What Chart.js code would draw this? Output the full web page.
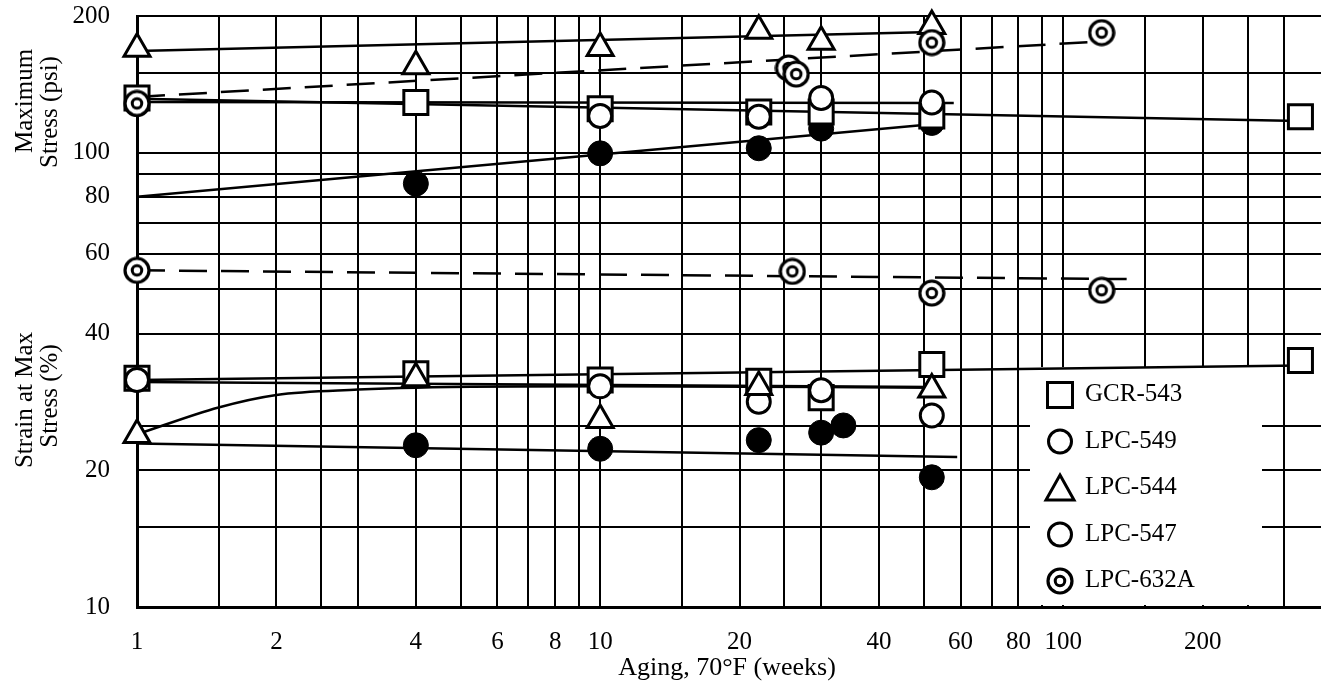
<!DOCTYPE html>
<html>
<head>
<meta charset="utf-8">
<title>Maximum stress and strain vs aging</title>
<script src="https://cdn.jsdelivr.net/npm/chart.js@4.4.0/dist/chart.umd.min.js"></script>
<style>
  html, body { margin: 0; padding: 0; background: #fff; }
  #wrap { width: 1321px; height: 682px; }
</style>
</head>
<body>
<div id="wrap"><canvas id="agingChart" width="1321" height="682"></canvas></div>
<script>
// Log-log paper: grid lines and the labelled ticks
const xGridWeeks = [1, 1.5, 2, 2.5, 3, 4, 5, 6, 7, 8, 9, 10, 15, 20, 25, 30, 40, 50, 60, 70, 80, 90, 100, 150, 200, 250, 300];
const xTickLabels = [1, 2, 4, 6, 8, 10, 20, 40, 60, 80, 100, 200];
const yGridValues = [10, 15, 20, 25, 40, 50, 60, 70, 80, 90, 100, 150, 200];
const yTickLabels = [10, 20, 40, 60, 80, 100, 200];

// Maximum stress (psi)
const gcrStressWeeks = [1, 4, 10, 22, 30, 52, 325];
const gcrStress = [132, 129, 125, 123, 123, 120.5, 120];
const lpc549StressWeeks = [1, 10, 22, 30, 52];
const lpc549Stress = [128, 120.5, 120, 132, 129];
const lpc544StressWeeks = [1, 4, 10, 22, 30, 52];
const lpc544Stress = [169.5, 155, 170, 185.5, 175.5, 190];
const lpc547StressWeeks = [4, 10, 22, 30, 52];
const lpc547Stress = [85.5, 99.7, 102.3, 113, 116.3];
const lpc632StressWeeks = [1, 25.5, 26.5, 52, 121];
const lpc632Stress = [128.4, 153.7, 149, 174.8, 183.8];

// Strain at max stress (%)
const gcrStrainWeeks = [1, 4, 10, 22, 30, 52, 325];
const gcrStrain = [31.9, 32.6, 31.6, 31.4, 28.9, 34.2, 34.9];
const lpc549StrainWeeks = [1, 10, 22, 30, 52];
const lpc549Strain = [31.6, 30.6, 28.3, 30.0, 26.4];
const lpc544StrainWeeks = [1, 4, 10, 22, 52];
const lpc544Strain = [23.9, 31.9, 25.8, 30.5, 30.1];
const lpc547StrainWeeks = [4, 10, 22, 30, 33.5, 52];
const lpc547Strain = [22.7, 22.3, 23.3, 24.2, 25.1, 19.3];
const lpc632StrainWeeks = [1, 26, 52, 121];
const lpc632Strain = [55.1, 54.8, 49.1, 49.8];

// Hand-drawn fit lines (end points, or points along the curve)
const gcrStressFitWeeks = [1, 325];
const gcrStressFit = [131.4, 117.5];
const lpc549StressFitWeeks = [1, 58];
const lpc549StressFit = [129.4, 128.7];
const lpc544StressFitWeeks = [1, 52];
const lpc544StressFit = [167.4, 184.5];
const lpc547StressFitWeeks = [1, 52];
const lpc547StressFit = [80, 115.5];
const lpc632StressFitWeeks = [1, 113];
const lpc632StressFit = [132.7, 175.1];

const gcrStrainFitWeeks = [1, 325];
const gcrStrainFit = [31.6, 34.0];
const lpc549StrainFitWeeks = [1, 52];
const lpc549StrainFit = [31.3, 30.5];
const lpc544StrainFitWeeks = [1, 1.5, 2, 3, 4, 10, 52];
const lpc544StrainFit = [24.0, 27.5, 29.3, 30.1, 30.4, 30.6, 30.4];
const lpc547StrainFitWeeks = [1, 59];
const lpc547StrainFit = [22.9, 21.4];
const lpc632StrainFitWeeks = [1, 137];
const lpc632StrainFit = [55.1, 52.7];

const serif = "'Liberation Serif', 'Times New Roman', serif";

// Double-ring marker used for LPC-632A
function makeRingMarker(size) {
  const c = document.createElement('canvas');
  c.width = c.height = size;
  const g = c.getContext('2d');
  const m = size / 2;
  g.strokeStyle = '#000';
  g.fillStyle = '#fff';
  g.lineWidth = 3.2;
  g.beginPath();
  g.arc(m, m, m - 2, 0, Math.PI * 2);
  g.fill();
  g.stroke();
  g.lineWidth = 3;
  g.beginPath();
  g.arc(m, m, m * 0.34, 0, Math.PI * 2);
  g.stroke();
  return c;
}
const ringMarker = makeRingMarker(28);

function xy(weeks, vals) {
  return weeks.map((w, i) => ({ x: w, y: vals[i] }));
}

function fitLine(weeks, vals, dashed, curved) {
  return {
    data: xy(weeks, vals),
    showLine: true,
    borderColor: '#000',
    borderWidth: 2.5,
    borderDash: dashed ? [28, 14] : [],
    pointRadius: 0,
    tension: curved ? 0.4 : 0,
    cubicInterpolationMode: curved ? 'monotone' : 'default',
    order: 10
  };
}

const squareStyle = { pointStyle: 'rect', pointRadius: 17, pointBackgroundColor: '#fff', pointBorderColor: '#000', pointBorderWidth: 3, order: 5 };
const openCircleStyle = { pointStyle: 'circle', pointRadius: 11.5, pointBackgroundColor: '#fff', pointBorderColor: '#000', pointBorderWidth: 3, order: 4 };
const triangleStyle = { pointStyle: 'triangle', pointRadius: 15, pointBackgroundColor: '#fff', pointBorderColor: '#000', pointBorderWidth: 3, order: 3 };
const filledCircleStyle = { pointStyle: 'circle', pointRadius: 12.5, pointBackgroundColor: '#000', pointBorderColor: '#000', pointBorderWidth: 1, order: 6 };
const ringStyle = { pointStyle: ringMarker, pointRadius: 13, order: 2 };

function markers(label, weeks, vals, style) {
  return { label, data: xy(weeks, vals), showLine: false, clip: false, ...style };
}

const datasets = [
  // fit lines
  fitLine(gcrStressFitWeeks, gcrStressFit),
  fitLine(lpc549StressFitWeeks, lpc549StressFit),
  fitLine(lpc544StressFitWeeks, lpc544StressFit),
  fitLine(lpc547StressFitWeeks, lpc547StressFit),
  fitLine(lpc632StressFitWeeks, lpc632StressFit, true),
  fitLine(gcrStrainFitWeeks, gcrStrainFit),
  fitLine(lpc549StrainFitWeeks, lpc549StrainFit),
  fitLine(lpc544StrainFitWeeks, lpc544StrainFit, false, true),
  fitLine(lpc547StrainFitWeeks, lpc547StrainFit),
  fitLine(lpc632StrainFitWeeks, lpc632StrainFit, true),
  // measured points
  markers('GCR-543', gcrStressWeeks, gcrStress, squareStyle),
  markers('GCR-543', gcrStrainWeeks, gcrStrain, squareStyle),
  markers('LPC-549', lpc549StressWeeks, lpc549Stress, openCircleStyle),
  markers('LPC-549', lpc549StrainWeeks, lpc549Strain, openCircleStyle),
  markers('LPC-544', lpc544StressWeeks, lpc544Stress, triangleStyle),
  markers('LPC-544', lpc544StrainWeeks, lpc544Strain, triangleStyle),
  markers('LPC-547', lpc547StressWeeks, lpc547Stress, filledCircleStyle),
  markers('LPC-547', lpc547StrainWeeks, lpc547Strain, filledCircleStyle),
  markers('LPC-632A', lpc632StressWeeks, lpc632Stress, ringStyle),
  markers('LPC-632A', lpc632StrainWeeks, lpc632Strain, ringStyle)
];

// Legend box sitting inside the plot (lower right), covering the grid
const legendItems = [
  { label: 'GCR-543', shape: 'square' },
  { label: 'LPC-549', shape: 'circle' },
  { label: 'LPC-544', shape: 'triangle' },
  { label: 'LPC-547', shape: 'circle' },
  { label: 'LPC-632A', shape: 'ring' }
];

function drawShape(ctx, shape, x, y) {
  ctx.save();
  ctx.strokeStyle = '#000';
  ctx.fillStyle = '#fff';
  ctx.lineWidth = 3;
  ctx.beginPath();
  if (shape === 'square') {
    ctx.rect(x - 12.5, y - 12.5, 25, 25);
  } else if (shape === 'circle') {
    ctx.arc(x, y, 11.5, 0, Math.PI * 2);
  } else if (shape === 'triangle') {
    ctx.moveTo(x, y - 15);
    ctx.lineTo(x + 14, y + 10);
    ctx.lineTo(x - 14, y + 10);
    ctx.closePath();
  } else if (shape === 'ring') {
    ctx.drawImage(ringMarker, x - ringMarker.width / 2, y - ringMarker.height / 2);
    ctx.restore();
    return;
  }
  ctx.fill();
  ctx.stroke();
  ctx.restore();
}

const paperLegend = {
  id: 'paperLegend',
  beforeDatasetsDraw(chart) {
    const { ctx, chartArea } = chart;
    const left = chartArea.right - 291;
    const top = chartArea.top + 351;
    ctx.save();
    ctx.fillStyle = '#fff';
    ctx.fillRect(left, top, 232, chartArea.bottom - top - 2);
    ctx.font = `25px ${serif}`;
    ctx.fillStyle = '#000';
    ctx.textAlign = 'left';
    ctx.textBaseline = 'alphabetic';
    legendItems.forEach((item, i) => {
      const rowY = top + 28 + i * 46.5;
      drawShape(ctx, item.shape, left + 30, rowY + (item.shape === 'triangle' ? 2 : 0));
      ctx.fillText(item.label, left + 55, rowY + 6);
    });
    ctx.restore();
  }
};

const axisTitles = {
  id: 'axisTitles',
  afterDraw(chart) {
    const ctx = chart.ctx;
    ctx.save();
    ctx.fillStyle = '#000';
    ctx.font = `25px ${serif}`;
    ctx.textAlign = 'center';
    ctx.textBaseline = 'alphabetic';
    const rotated = (text, x, y) => {
      ctx.save();
      ctx.translate(x, y);
      ctx.rotate(-Math.PI / 2);
      ctx.fillText(text, 0, 0);
      ctx.restore();
    };
    rotated('Maximum', 32, 101);
    rotated('Stress (psi)', 57, 112);
    rotated('Strain at Max', 32, 400);
    rotated('Stress (%)', 57, 396);
    ctx.font = `26px ${serif}`;
    ctx.textBaseline = 'middle';
    ctx.fillText('Aging, 70°F (weeks)', 727, 668);
    ctx.restore();
  }
};

new Chart(document.getElementById('agingChart'), {
  type: 'scatter',
  data: { datasets },
  options: {
    responsive: false,
    animation: false,
    devicePixelRatio: 1,
    layout: { autoPadding: false, padding: { top: 16, left: 0, right: 0, bottom: 0 } },
    plugins: {
      legend: { display: false },
      tooltip: { enabled: false }
    },
    scales: {
      x: {
        type: 'logarithmic',
        min: 1,
        max: 360,
        afterBuildTicks: (scale) => { scale.ticks = xGridWeeks.map(v => ({ value: v })); },
        afterFit: (scale) => {
          scale.height = 75;
          scale.paddingLeft = 0;
          scale.paddingRight = 0;
        },
        ticks: {
          autoSkip: false,
          maxRotation: 0,
          minRotation: 0,
          padding: 20,
          color: '#000',
          font: { family: serif, size: 25 },
          callback: (v) => xTickLabels.includes(v) ? String(v) : ''
        },
        grid: { color: '#000', lineWidth: 2, drawTicks: false },
        border: { color: '#000', width: 3 }
      },
      y: {
        type: 'logarithmic',
        min: 10,
        max: 200,
        afterBuildTicks: (scale) => { scale.ticks = yGridValues.map(v => ({ value: v })); },
        afterFit: (scale) => {
          scale.width = 137;
          scale.paddingTop = 0;
          scale.paddingBottom = 0;
        },
        ticks: {
          autoSkip: false,
          padding: 27,
          color: '#000',
          font: { family: serif, size: 25 },
          callback: (v) => yTickLabels.includes(v) ? String(v) : ''
        },
        grid: { color: '#000', lineWidth: 2, drawTicks: false },
        border: { color: '#000', width: 3 }
      }
    }
  },
  plugins: [paperLegend, axisTitles]
});
</script>
</body>
</html>
